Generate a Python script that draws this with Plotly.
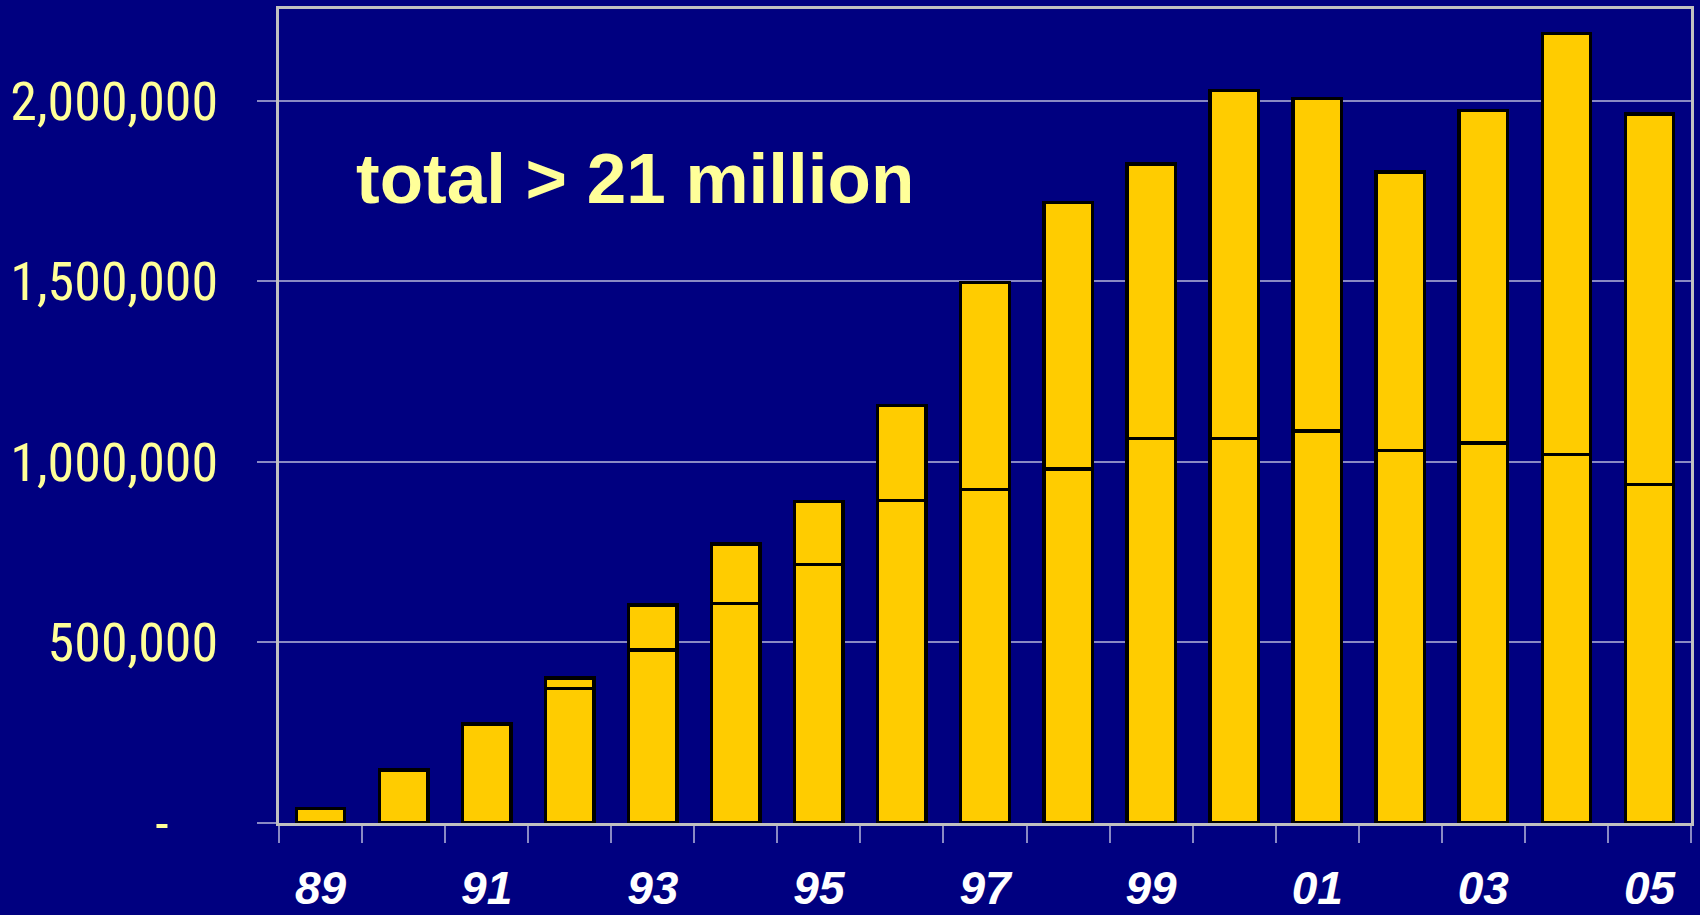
import plotly.graph_objects as go

years = ["89", "90", "91", "92", "93", "94", "95", "96", "97", "98", "99", "00", "01", "02", "03", "04", "05"]
year_labels = ["89", "", "91", "", "93", "", "95", "", "97", "", "99", "", "01", "", "03", "", "05"]
lower = [40000, 147000, 274000, 372000, 479000, 607000, 715000, 893000, 924000, 980000,
         1064000, 1064000, 1085000, 1032000, 1052000, 1020000, 937000]
upper = [None, None, None, 29000, 125000, 166000, 175000, 263000, 573000, 739000,
         761000, 964000, 921000, 771000, 921000, 1166000, 1026000]
y_ticks = [0, 500000, 1000000, 1500000, 2000000]
y_ticktext = ["-\u00a0\u00a0\u00a0\u00a0", "500,000", "1,000,000", "1,500,000", "2,000,000"]
note = "total > 21 million"

NAVY = "#000080"
GOLD = "#FFCC00"
PALE = "#FFFF99"
GRID = "rgba(195,195,225,0.7)"
FRAME = "#C0C0C0"

fig = go.Figure()
fig.add_trace(go.Bar(x=years, y=lower, marker=dict(color=GOLD, line=dict(color="black", width=3.4)),
                     showlegend=False, hoverinfo="skip"))
fig.add_trace(go.Bar(x=years, y=upper, marker=dict(color=GOLD, line=dict(color="black", width=3.4)),
                     showlegend=False, hoverinfo="skip"))

fig.update_layout(
    width=1700, height=915,
    margin=dict(l=279, r=9, t=9, b=92, pad=0, autoexpand=False),
    paper_bgcolor=NAVY, plot_bgcolor=NAVY,
    barmode="stack", bargap=0.417,
    xaxis=dict(
        type="category", tickmode="array", tickvals=years, ticktext=year_labels,
        tickson="boundaries", ticks="outside", ticklen=17, tickwidth=1.5, tickcolor=GRID,
        showline=True, linecolor=FRAME, linewidth=3, mirror=True,
        showgrid=False, zeroline=False, automargin=False,
        tickfont=dict(family="Liberation Sans, Arial, sans-serif", size=46, color="white",
                      weight="bold", style="italic"),
        ticklabelstandoff=23,
    ),
    yaxis=dict(
        range=[0, 2254000], tickmode="array", tickvals=y_ticks, ticktext=y_ticktext,
        ticks="outside", ticklen=19, tickwidth=1.5, tickcolor=GRID,
        showgrid=True, gridcolor=GRID, gridwidth=1.5,
        showline=True, linecolor=FRAME, linewidth=3, mirror=True,
        zeroline=False, automargin=False,
        tickfont=dict(family="Liberation Sans Narrow, Arial Narrow, Roboto Condensed, sans-serif",
                      size=54, color=PALE),
        ticklabelstandoff=28,
    ),
    annotations=[dict(
        text=note, xref="paper", yref="paper", x=0.0533, y=0.792,
        xanchor="left", yanchor="middle", showarrow=False,
        font=dict(family="Liberation Sans, Arial, sans-serif", size=71, color=PALE, weight="bold"),
    )],
)

fig.write_html("out.html", config={"displayModeBar": False},
               post_script="document.body.style.margin='0';document.body.style.background='#000080';")
